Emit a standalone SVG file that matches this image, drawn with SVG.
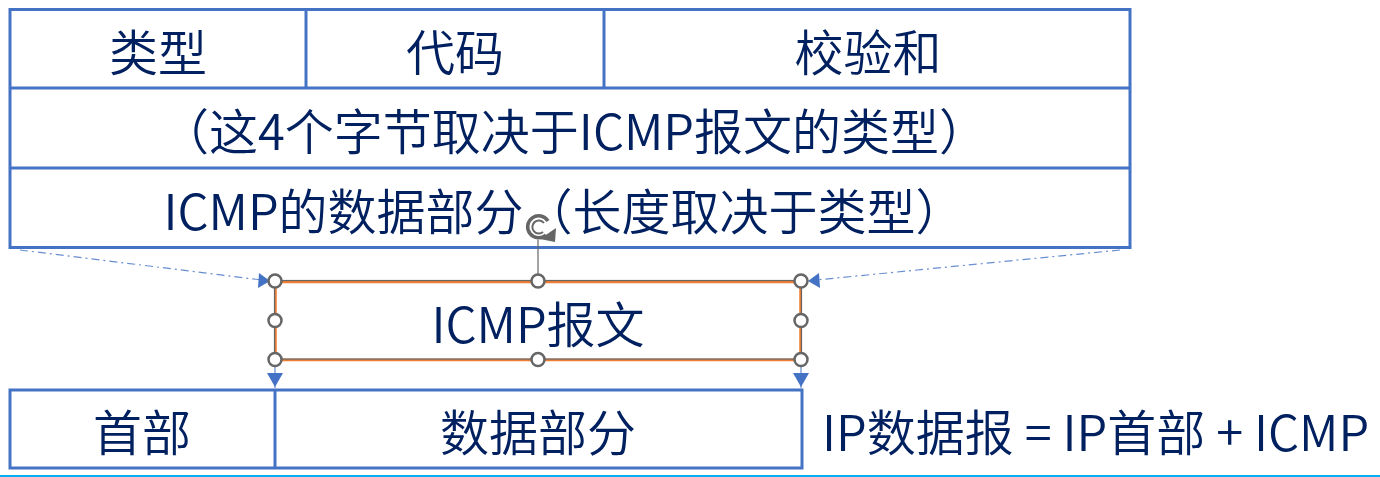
<svg xmlns="http://www.w3.org/2000/svg" width="1380" height="477" viewBox="0 0 1380 477">
<style>
.cell{fill:#fff;stroke:#4472C4;stroke-width:3}
.div{stroke:#4472C4;stroke-width:3;fill:none}
.t{font-family:"Noto Sans CJK SC","Noto Sans",sans-serif;font-size:49px;font-weight:350;fill:#002060;text-anchor:middle;dominant-baseline:central}
.h{fill:#fff;stroke:#666;stroke-width:2.5}
.dd{stroke:#4472C4;stroke-width:1.2;fill:none;stroke-dasharray:8 4 2 4;opacity:0.8}
.ah{fill:#4472C4}
</style>
<rect width="1380" height="477" fill="#fff"/>
<g id="icmp-format">
<rect class="cell" x="10" y="9.5" width="1120" height="238"/>
<line class="div" x1="10" y1="88" x2="1130" y2="88"/>
<line class="div" x1="10" y1="168" x2="1130" y2="168"/>
<line class="div" x1="306" y1="9.5" x2="306" y2="88"/>
<line class="div" x1="604" y1="9.5" x2="604" y2="88"/>
<text class="t" x="158" y="49">类型</text>
<text class="t" x="455" y="49">代码</text>
<text class="t" x="868" y="49">校验和</text>
<text class="t" x="574" y="128">（这4个字节取决于ICMP报文的类型）</text>
<text class="t" x="564" y="208">ICMP的数据部分（长度取决于类型）</text>
</g>
<g id="connectors">
<line class="dd" x1="20" y1="250" x2="262" y2="280"/>
<polygon class="ah" points="270,281 259,273 258,288"/>
<line class="dd" x1="1120" y1="250" x2="816" y2="280"/>
<polygon class="ah" points="808,281 819,273 820,288"/>
<line x1="275" y1="360" x2="275" y2="388" stroke="#4472C4" stroke-width="1"/>
<polygon class="ah" points="267,373 283,373 275,387"/>
<line x1="801" y1="360" x2="801" y2="388" stroke="#4472C4" stroke-width="1"/>
<polygon class="ah" points="793,373 809,373 801,387"/>
</g>
<g id="icmp-message">
<rect x="275.5" y="282" width="525" height="78" fill="#fff" stroke="#ED7D31" stroke-width="2.5"/>
<rect x="274.5" y="280.5" width="527" height="78.5" fill="none" stroke="#666" stroke-width="1.2"/>
<text class="t" x="538" y="321">ICMP报文</text>
<line x1="538" y1="240" x2="538" y2="281" stroke="#666" stroke-width="1.2"/>
<path d="M546,235 A11,11 0 1 1 548,221" fill="none" stroke="#666" stroke-width="3.5"/>
<path d="M543,232 A6.5,6.5 0 1 1 544,223" fill="none" stroke="#666" stroke-width="2"/>
<polygon points="540,239 556,228 555,242" fill="#666"/>
<circle class="h" cx="275" cy="281" r="6.5"/>
<circle class="h" cx="538" cy="281" r="6.5"/>
<circle class="h" cx="801" cy="281" r="6.5"/>
<circle class="h" cx="275" cy="320.5" r="6.5"/>
<circle class="h" cx="801" cy="320.5" r="6.5"/>
<circle class="h" cx="275" cy="359.5" r="6.5"/>
<circle class="h" cx="538" cy="359.5" r="6.5"/>
<circle class="h" cx="801" cy="359.5" r="6.5"/>
</g>
<g id="ip-datagram">
<rect class="cell" x="10" y="390" width="792" height="78"/>
<line class="div" x1="275" y1="390" x2="275" y2="468"/>
<text class="t" x="142" y="429">首部</text>
<text class="t" x="538" y="429">数据部分</text>
</g>
<g id="ip-label">
<text class="t" x="822" y="429" style="text-anchor:start">IP数据报 = IP首部 + ICMP</text>
</g>
<rect x="0" y="475" width="1380" height="2" fill="#00B0F0"/>
</svg>
